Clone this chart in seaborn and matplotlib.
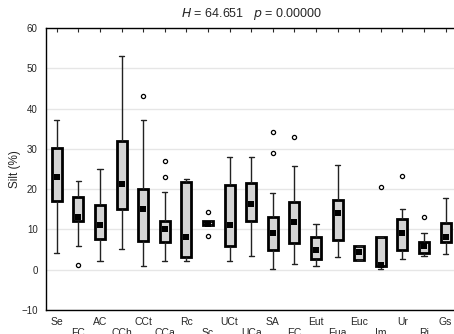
import matplotlib
matplotlib.use("Agg")
import matplotlib.pyplot as plt
import seaborn as sns
import pandas as pd
import numpy as np

categories = ["Se", "FC", "AC", "CCh", "CCt", "CCa", "Rc", "Sc", "UCt", "UCa",
              "SA", "EC", "Eut", "Eua", "Euc", "Im", "Ur", "Ri", "Gs"]
medians = [23.1, 13.2, 11.2, 21.3, 15.0, 10.0, 8.0, 11.3, 11.2, 16.3,
           9.1, 11.9, 4.8, 14.2, 4.3, 1.2, 9.2, 5.8, 8.0]
q1 = [17.1, 12.1, 7.7, 15.1, 7.2, 6.8, 3.1, 11.0, 5.9, 12.1,
      5.0, 6.6, 2.7, 7.3, 2.5, 0.8, 5.0, 4.1, 6.9]
q3 = [30.1, 18.0, 16.0, 32.0, 20.0, 12.0, 21.7, 12.1, 21.0, 21.6,
      13.0, 16.9, 8.0, 17.3, 5.8, 8.0, 12.5, 6.9, 11.6]
whisker_lo = [4.1, 6.0, 2.1, 5.1, 1.0, 2.1, 2.1, 11.0, 2.1, 3.5,
              0.2, 1.4, 1.0, 3.1, 2.5, 0.2, 2.6, 3.3, 3.9]
whisker_hi = [37.1, 22.1, 25.0, 53.1, 37.1, 19.4, 22.4, 12.1, 28.1, 27.9,
              19.0, 25.7, 11.4, 26.0, 5.8, 8.0, 15.0, 9.1, 17.9]
outliers = {1: [1.2], 4: [43.1], 5: [27.1, 23.1], 7: [14.3, 8.3],
            10: [34.1, 28.9], 11: [33.0], 15: [20.5], 16: [23.3], 17: [13.2]}

# long-form table: five summary points per group (min, q1, median, q3, max)
rows = []
for i in range(len(categories)):
    for v in (whisker_lo[i], q1[i], medians[i], q3[i], whisker_hi[i]):
        rows.append({"pos": i, "val": v})
df = pd.DataFrame(rows)
med_df = pd.DataFrame({"pos": range(len(categories)), "val": medians})
out_df = pd.DataFrame([{"pos": k, "val": v} for k, vs in outliers.items() for v in vs])

sns.set_style("white")
plt.rcParams["font.family"] = ["Liberation Sans", "DejaVu Sans"]

fig = plt.figure(figsize=(4.54, 3.34), dpi=100)
ax = fig.add_axes([46 / 454, 1 - 310 / 334, 410.4 / 454, 282 / 334])

sns.boxplot(data=df, x="pos", y="val", order=list(range(len(categories))),
            whis=(0, 100), width=0.47, color="#d4d4d4", saturation=1,
            showfliers=False, ax=ax, linecolor="black",
            boxprops=dict(linewidth=2.0, edgecolor="black"),
            whiskerprops=dict(linewidth=1.0, color="#222222"),
            capprops=dict(linewidth=1.0, color="#222222"),
            medianprops=dict(linewidth=0, alpha=0))
sns.scatterplot(data=med_df, x="pos", y="val", marker="s", s=16, color="black",
                edgecolor="black", linewidth=0, ax=ax, zorder=5)
sns.scatterplot(data=out_df, x="pos", y="val", marker="o", s=9,
                facecolor="white", edgecolor="black", linewidth=0.9, ax=ax, zorder=5)

ax.set_xlim(-0.5, len(categories) - 0.5)
ax.set_ylim(-10, 60)
ax.set_yticks(range(-10, 61, 10))
ax.set_xticks(range(len(categories)))
ax.set_xticklabels([c if i % 2 == 0 else "\n" + c for i, c in enumerate(categories)],
                   fontsize=7.5, linespacing=1.15)
ax.tick_params(axis="y", labelsize=7, direction="in", length=3, width=0.8, pad=6)
ax.tick_params(axis="x", direction="in", length=3, width=0.8, pad=5, top=True)
ax.grid(axis="y", color="#e6e6e6", linewidth=1)
ax.set_axisbelow(True)
for s in ax.spines.values():
    s.set_color("black")
    s.set_linewidth(1.0)
ax.set_xlabel("")
ax.set_ylabel("Silt (%)", fontsize=8.5, labelpad=0)
ax.set_title(r"$\mathit{H}$ = 64.651   $\mathit{p}$ = 0.00000", fontsize=9, pad=8)

fig.savefig("out.png", dpi=100)
